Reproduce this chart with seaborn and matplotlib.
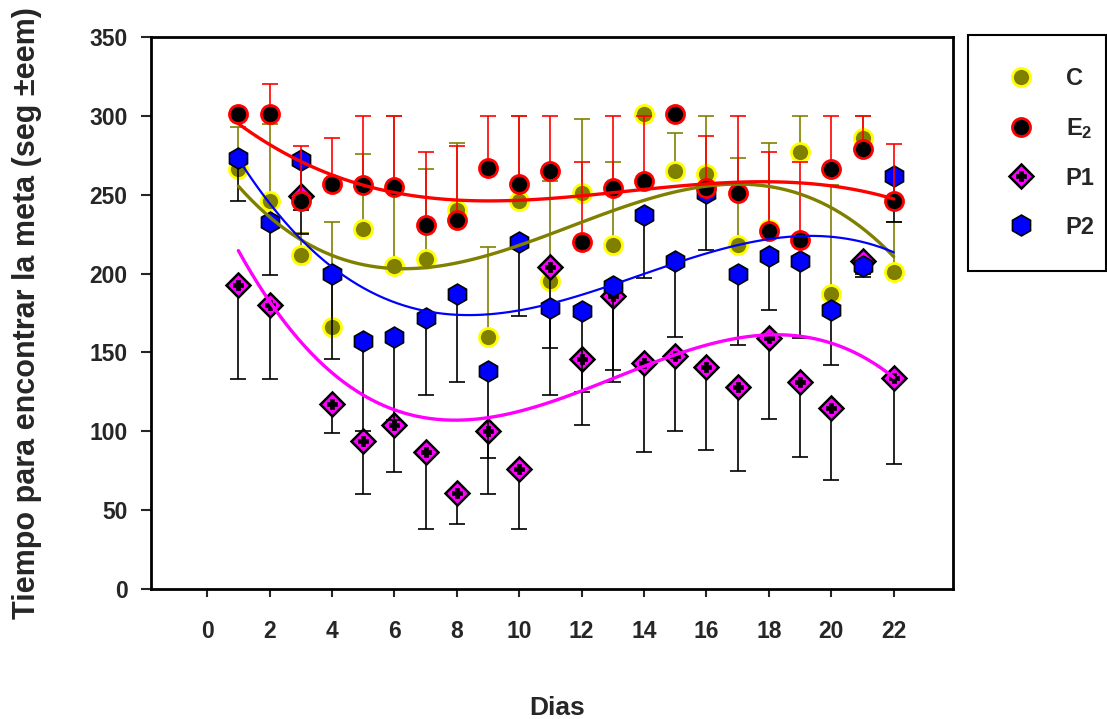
import numpy as np
import pandas as pd
import matplotlib
matplotlib.use("Agg")
import matplotlib.pyplot as plt
import seaborn as sns
from matplotlib.lines import Line2D

# ---------------- data ----------------
days = list(range(1, 23))

c_mean = [266, 246, 212, 166, 228, 205, 209, 240, 160, 246, 195,
          251, 218, 301, 265, 263, 218, 228, 277, 187, 286, 201]
c_upper = [293, 295, 226, 233, 276, 300, 266, 283, 217, 300, 259,
           298, 271, 301, 289, 300, 273, 283, 300, 256, 300, 233]

e2_mean = [301, 301, 246, 257, 256, 255, 231, 234, 267, 257, 265,
           220, 254, 259, 301, 254, 251, 227, 221, 266, 279, 246]
e2_upper = [301, 320, 281, 286, 300, 300, 277, 281, 300, 300, 300,
            271, 300, 300, 301, 287, 300, 277, 271, 300, 300, 282]

p1_mean = [193, 180, 249, 117, 94, 104, 87, 61, 100, 76, 204,
           146, 186, 143, 148, 141, 128, 159, 131, 115, 208, 134]
p1_lower = [133, 133, 240, 99, 60, 74, 38, 41, 60, 38, 123,
            104, 131, 87, 100, 88, 75, 108, 84, 69, 200, 79]

p2_mean = [273, 233, 272, 200, 157, 160, 172, 187, 138, 220, 178,
           176, 192, 237, 208, 251, 200, 211, 208, 177, 205, 262]
p2_lower = [246, 199, 225, 146, 100, 107, 123, 131, 83, 173, 153,
            125, 139, 197, 160, 215, 155, 177, 159, 142, 198, 233]

x_ticks = list(range(0, 23, 2))
y_ticks = list(range(0, 351, 50))

# ---------------- style ----------------
sns.set_style("ticks")
plt.rcParams["font.family"] = ["Liberation Sans", "DejaVu Sans"]
plt.rcParams["font.weight"] = "bold"
plt.rcParams["mathtext.fontset"] = "custom"
plt.rcParams["mathtext.rm"] = "Liberation Sans:bold"
plt.rcParams["mathtext.bf"] = "Liberation Sans:bold"
plt.rcParams["mathtext.default"] = "bf"

OLIVE = "#808000"
YELLOW = "#FFFF00"
RED = "#FF0000"
MAGENTA = "#FF00FF"
BLUE = "#0000FF"

W, H = 1107, 719
fig = plt.figure(figsize=(W / 100, H / 100), dpi=100)
ax = fig.add_axes([151 / W, 1 - 589 / H, (953 - 151) / W, (589 - 37) / H])

d = np.array(days)
CAP = 5.8

# ---- C (olive circles, upward error bars)
cm = np.array(c_mean)
ax.errorbar(d, cm, yerr=[np.zeros_like(cm), np.array(c_upper) - cm], fmt="none",
            ecolor=OLIVE, elinewidth=1.2, capsize=CAP, capthick=1.2, zorder=2)
ax.plot(d, cm, ls="none", marker="o", ms=13, mfc=OLIVE, mec=YELLOW, mew=2, zorder=2.1)

# ---- P1 (magenta diamonds, downward error bars)
p1 = np.array(p1_mean)
ax.errorbar(d, p1, yerr=[p1 - np.array(p1_lower), np.zeros_like(p1)], fmt="none",
            ecolor="black", elinewidth=1.2, capsize=CAP, capthick=1.2, zorder=3)
ax.plot(d, p1, ls="none", marker="D", ms=12, mfc=MAGENTA, mec="black", mew=1.8, zorder=3.1)
ax.plot(d, p1, ls="none", marker="P", ms=7, mfc="black", mec="black", mew=0.5, zorder=3.2)

# ---- P2 (blue hexagons, downward error bars)
p2 = np.array(p2_mean)
ax.errorbar(d, p2, yerr=[p2 - np.array(p2_lower), np.zeros_like(p2)], fmt="none",
            ecolor="black", elinewidth=1.2, capsize=CAP, capthick=1.2, zorder=4)
ax.plot(d, p2, ls="none", marker="h", ms=15, mfc=BLUE, mec="black", mew=1.2, zorder=4.1)

# ---- E2 (black circles with red edge, upward error bars)
e2 = np.array(e2_mean)
ax.errorbar(d, e2, yerr=[np.zeros_like(e2), np.array(e2_upper) - e2], fmt="none",
            ecolor=RED, elinewidth=1.2, capsize=CAP, capthick=1.2, zorder=5)
ax.plot(d, e2, ls="none", marker="o", ms=13, mfc="black", mec=RED, mew=2, zorder=5.1)

# ---- cubic regression curves
for vals, col, lw in [(c_mean, OLIVE, 2.4), (e2_mean, RED, 2.4),
                      (p1_mean, MAGENTA, 2.4), (p2_mean, BLUE, 1.6)]:
    df = pd.DataFrame({"dia": days, "t": vals})
    sns.regplot(data=df, x="dia", y="t", order=3, scatter=False, ci=None,
                truncate=True, ax=ax, line_kws=dict(color=col, lw=lw, zorder=6))

# ---------------- axes ----------------
ax.set_xlim(-1.8, 23.9)
ax.set_ylim(0, 350)
ax.set_xticks(x_ticks)
ax.set_yticks(y_ticks)
ax.tick_params(axis="x", direction="out", length=6, width=1.5, pad=16, labelsize=16.5)
ax.tick_params(axis="y", direction="out", length=7, width=1.5, pad=10, labelsize=16.5)
for lab in ax.get_xticklabels() + ax.get_yticklabels():
    lab.set_fontweight("bold")
for sp in ax.spines.values():
    sp.set_visible(True)
    sp.set_linewidth(2)
    sp.set_color("black")

ax.set_xlabel("Dias", fontsize=19, fontweight="bold")
ax.xaxis.set_label_coords(0.506, -0.194)
ax.xaxis.label.set_va("top")
ax.set_ylabel("Tiempo para encontrar la meta (seg \u00b1eem)", fontsize=22, fontweight="bold")
ax.yaxis.set_label_coords(-0.136, 0.5)

# ---------------- legend ----------------
handles = [
    Line2D([], [], ls="none", marker="o", ms=13, mfc=OLIVE, mec=YELLOW, mew=2),
    Line2D([], [], ls="none", marker="o", ms=13, mfc="black", mec=RED, mew=2),
    (Line2D([], [], ls="none", marker="D", ms=12, mfc=MAGENTA, mec="black", mew=1.8),
     Line2D([], [], ls="none", marker="P", ms=7, mfc="black", mec="black", mew=0.5)),
    Line2D([], [], ls="none", marker="h", ms=15, mfc=BLUE, mec="black", mew=1.2),
]
labels = ["C", "E$_2$", "P1", "P2"]
leg = fig.legend(handles, labels, loc="upper left",
                 bbox_to_anchor=(968 / W, 1 - 268 / H, 138 / W, (268 - 35) / H),
                 mode="expand", frameon=True, fancybox=False, shadow=False,
                 edgecolor="black", facecolor="white", framealpha=1,
                 prop=dict(family=["Liberation Sans"], weight="bold", size=17),
                 borderpad=1.35, labelspacing=1.1, handlelength=1.78,
                 handletextpad=1.0, borderaxespad=0)
leg.get_frame().set_linewidth(1.5)

fig.savefig("out.png", dpi=100)
